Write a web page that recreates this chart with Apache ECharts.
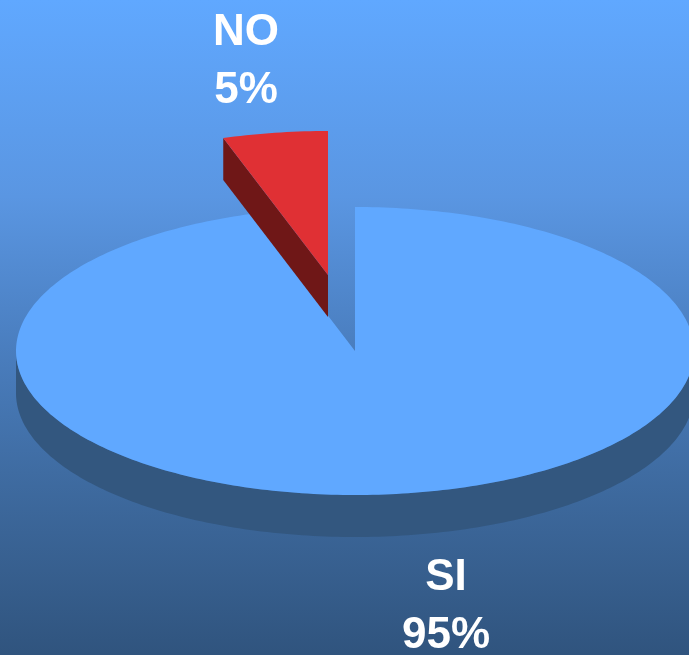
<!DOCTYPE html>
<html>
<head>
<meta charset="utf-8">
<style>
  html, body { margin: 0; padding: 0; }
  #chart { width: 689px; height: 655px; }
</style>
<script src="https://cdn.jsdelivr.net/npm/echarts@6/dist/echarts.min.js"></script>
</head>
<body>
<div id="chart"></div>
<script>
var categories = ['SI', 'NO']
var percents = [95, 5]

var sliceColors = ['#60A8FF', '#E03034']
var wallColors = ['#33577F', '#6F1717']

// ellipse of the tilted pie
var cx = 355
var cy = 351
var rx = 339
var ry = 144
var depth = 42
// only NO is pulled out of the pie
var offsets = [[0, 0], [-27, -76]]
var labelPos = [[446, 607], [246, 62]]

var total = percents.reduce(function(a, b) { return a + b }, 0)

function pt(ox, oy, deg, dy) {
  var t = deg * Math.PI / 180
  return [ox + rx * Math.sin(t), oy - ry * Math.cos(t) + (dy || 0)]
}

function arc(ox, oy, from, to, dy) {
  var pts = []
  for (var d = from; d < to; d += 1) {
    pts.push(pt(ox, oy, d, dy))
  }
  pts.push(pt(ox, oy, to, dy))
  return pts
}

function renderSlice(params, api) {
  var i = params.dataIndex
  var start = 0
  for (var k = 0; k < i; k++) {
    start += percents[k] / total * 360
  }
  var end = start + api.value(0) / total * 360
  var ox = cx + offsets[i][0]
  var oy = cy + offsets[i][1]
  var children = []

  // rim along the front half
  var from = Math.max(start, 90)
  var to = Math.min(end, 270)
  if (from < to) {
    var rim = arc(ox, oy, from, to, 0).concat(arc(ox, oy, from, to, depth).reverse())
    children.push({ type: 'polygon', shape: { points: rim }, style: { fill: wallColors[i] } })
  }
  // cut side, only when it faces the viewer
  if (start > 180) {
    var a = pt(ox, oy, start, 0)
    var b = pt(ox, oy, start, depth)
    children.push({
      type: 'polygon',
      shape: { points: [[ox, oy], a, b, [ox, oy + depth]] },
      style: { fill: wallColors[i] }
    })
  }
  // top face
  var face = [[ox, oy]].concat(arc(ox, oy, start, end, 0))
  children.push({ type: 'polygon', shape: { points: face }, style: { fill: sliceColors[i] } })

  children.push({
    type: 'text',
    style: {
      text: categories[i] + '\n' + api.value(0) + '%',
      x: labelPos[i][0],
      y: labelPos[i][1],
      align: 'center',
      verticalAlign: 'middle',
      fill: '#fff',
      fontSize: 44,
      fontWeight: 'bold',
      fontFamily: 'Liberation Sans',
      lineHeight: 58
    },
    z2: 10
  })
  return { type: 'group', children: children }
}

var chart = echarts.init(document.getElementById('chart'))
chart.setOption({
  animation: false,
  backgroundColor: new echarts.graphic.LinearGradient(0, 0, 0, 1, [
    { offset: 0, color: '#60A8FF' },
    { offset: 0.3, color: '#5A96E2' },
    { offset: 0.53, color: '#4A7EBF' },
    { offset: 0.72, color: '#3F6CA2' },
    { offset: 1, color: '#30547E' }
  ]),
  series: [{
    type: 'custom',
    coordinateSystem: 'none',
    renderItem: renderSlice,
    data: percents
  }]
})
</script>
</body>
</html>
